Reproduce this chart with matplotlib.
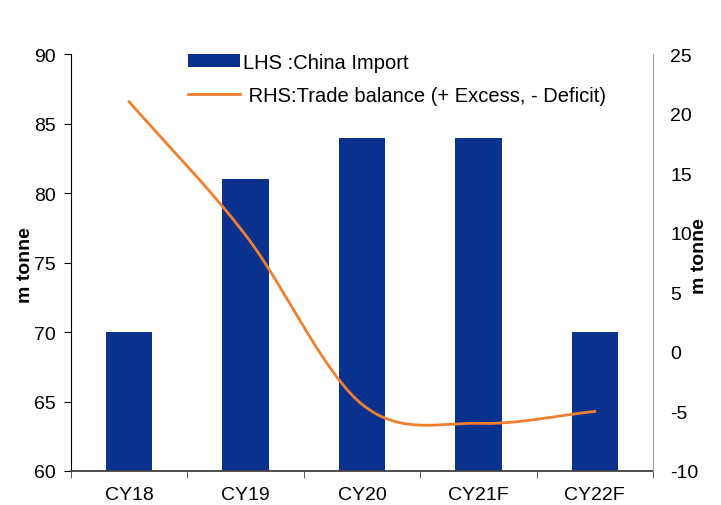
import numpy as np
import matplotlib
matplotlib.use("Agg")
import matplotlib.pyplot as plt
from matplotlib.ticker import FixedLocator

plt.rcParams['font.family'] = ['Liberation Sans', 'DejaVu Sans']
plt.rcParams['axes.unicode_minus'] = False

years = ["CY18", "CY19", "CY20", "CY21F", "CY22F"]
china_import = [70, 81, 84, 84, 70]
trade_balance = [21, 9.8, -4.4, -6.0, -5.0]

BAR_BLUE = "#0B318F"
LINE_ORANGE = "#F07F2E"


def smooth(xs, ys, n=40):
    # catmull-rom through the points, like a spreadsheet "smoothed line"
    xs = np.asarray(xs, float)
    ys = np.asarray(ys, float)
    px = np.concatenate([[2 * xs[0] - xs[1]], xs, [2 * xs[-1] - xs[-2]]])
    py = np.concatenate([[2 * ys[0] - ys[1]], ys, [2 * ys[-1] - ys[-2]]])
    outx, outy = [], []
    for i in range(1, len(px) - 2):
        t = np.linspace(0, 1, n)
        for p, out in ((px, outx), (py, outy)):
            p0, p1, p2, p3 = p[i - 1], p[i], p[i + 1], p[i + 2]
            out.extend(0.5 * (2 * p1 + (-p0 + p2) * t
                              + (2 * p0 - 5 * p1 + 4 * p2 - p3) * t ** 2
                              + (-p0 + 3 * p1 - 3 * p2 + p3) * t ** 3))
    return np.array(outx), np.array(outy)


fig = plt.figure(figsize=(7.21, 5.06), dpi=100)
ax = fig.add_axes([0.0985, 0.0672, 0.8072, 0.8238])
ax2 = ax.twinx()

x = np.arange(len(years))
bars = ax.bar(x, china_import, width=0.4, color=BAR_BLUE, zorder=2,
              label="LHS :China Import")
ax.set_ylim(60, 90)
ax.set_xlim(-0.5, len(years) - 0.5)
ax.set_yticks(np.arange(60, 91, 5))
ax.set_xticks(x)
ax.set_xticklabels(years)
ax.xaxis.set_minor_locator(FixedLocator(np.arange(-0.5, len(years), 1.0)))
ax.tick_params(axis='x', which='major', length=0, labelsize=14, pad=11)
ax.tick_params(axis='x', which='minor', length=5, color="#404040")
ax.tick_params(axis='y', length=5, labelsize=14, pad=6)
ax.set_ylabel("m tonne", fontsize=14, fontweight='bold',
              va='center', ha='center')
ax.yaxis.set_label_coords(-0.079, 0.496)
ax.spines['top'].set_visible(False)
ax.spines['right'].set_visible(False)
ax.spines['bottom'].set_color("#404040")
ax.spines['bottom'].set_linewidth(1.3)

sx, sy = smooth(x, trade_balance)
line, = ax2.plot(sx, sy, color=LINE_ORANGE, lw=2,
                 label=" RHS:Trade balance (+ Excess, - Deficit)")
ax2.set_ylim(-10, 25)
ax2.set_yticks(np.arange(-10, 26, 5))
ax2.tick_params(axis='y', length=0, labelsize=14, pad=12.5)
ax2.set_ylabel("m tonne", fontsize=14, fontweight='bold', rotation=90,
               va='center', ha='center')
ax2.yaxis.set_label_coords(1.08, 0.518)
for s in ('top', 'left', 'bottom'):
    ax2.spines[s].set_visible(False)
ax2.spines['right'].set_color("#A0A0A0")

leg = ax.legend([bars, line], [bars.get_label(), line.get_label()],
                loc='upper left', bbox_to_anchor=(0.17, 1.047), frameon=False,
                fontsize=14.5, handlelength=2.6, handleheight=0.6,
                handletextpad=0.15, labelspacing=0.7)

fig.savefig("out.png", dpi=100)
